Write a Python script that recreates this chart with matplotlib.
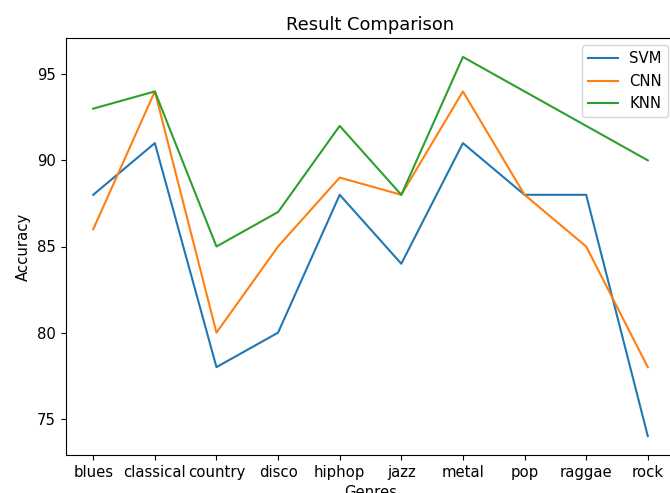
import matplotlib
matplotlib.use('Agg')
import matplotlib.pyplot as plt

genres = ['blues', 'classical', 'country', 'disco', 'hiphop',
          'jazz', 'metal', 'pop', 'raggae', 'rock']
svm_acc = [88, 91, 78, 80, 88, 84, 91, 88, 88, 74]
cnn_acc = [86, 94, 80, 85, 89, 88, 94, 88, 85, 78]
knn_acc = [93, 94, 85, 87, 92, 88, 96, 94, 92, 90]

plt.rcParams['font.size'] = 10.7

fig = plt.figure(figsize=(6.7, 4.93), dpi=100)
# axes runs a bit past the right edge, like the cropped original
ax = fig.add_axes([65.5/670, 38/493, 610/670, 417/493])

ax.plot(genres, svm_acc, label='SVM')
ax.plot(genres, cnn_acc, label='CNN')
ax.plot(genres, knn_acc, label='KNN')

ax.set_title('Result Comparison', fontsize=12.9)
ax.set_xlabel('Genres')
ax.set_ylabel('Accuracy')
ax.legend(loc='upper right')

fig.savefig('out.png', dpi=100)
